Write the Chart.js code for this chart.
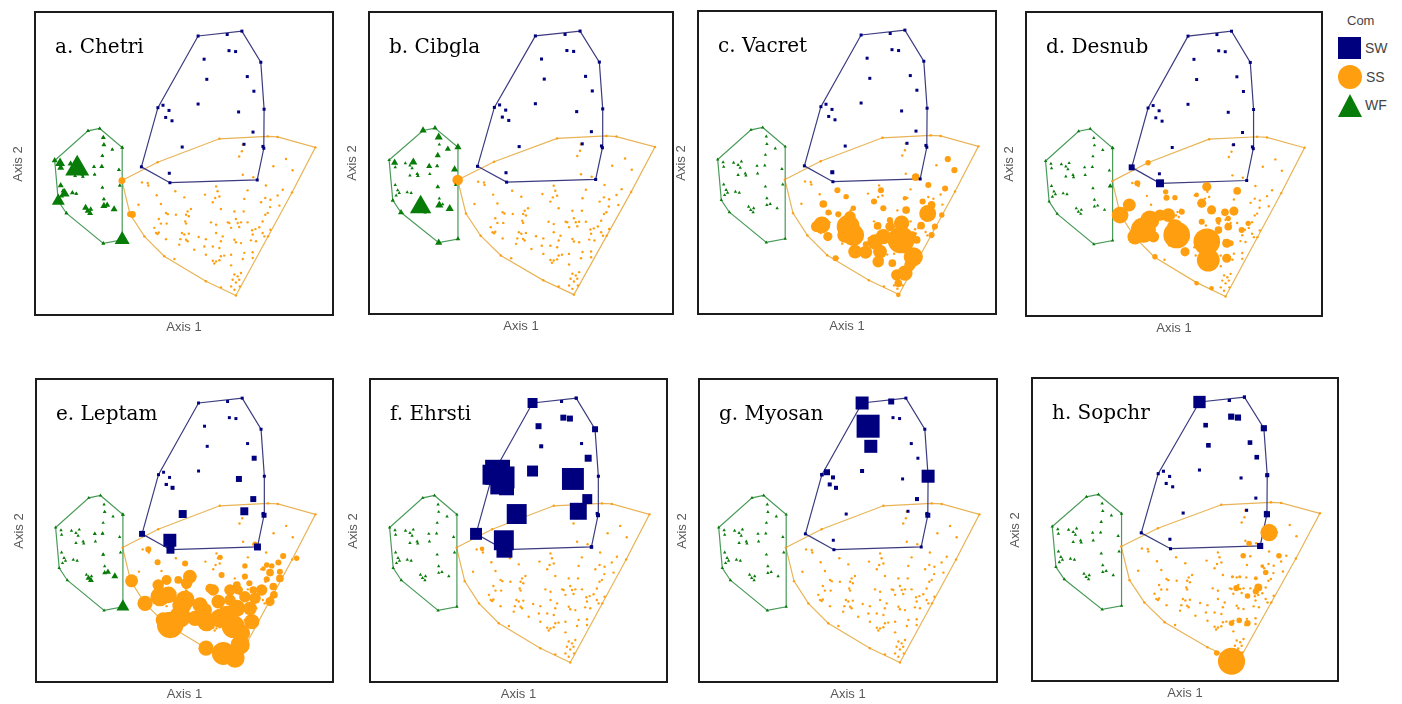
<!DOCTYPE html>
<html>
<head>
<meta charset="utf-8">
<script src="https://cdn.jsdelivr.net/npm/chart.js@4.4.1/dist/chart.umd.min.js"></script>
<style>
  body { margin: 0; background: #fff; width: 1402px; height: 704px; position: relative; overflow: hidden; }
  .box { position: absolute; box-sizing: border-box; border: 2px solid #1c1c1c; pointer-events: none; }
  canvas { position: absolute; }
  .ttl { position: absolute; font-family: "DejaVu Serif", serif; font-size: 20px; line-height: 20px; color: #000; white-space: nowrap; }
  .ax1, .ax2 { position: absolute; font-family: "Liberation Sans", Arial, sans-serif; font-size: 13px; line-height: 14px; color: #595959; white-space: nowrap; text-align: center; }
  .ax2 { width: 60px; transform: rotate(-90deg); }
  .leg { position: absolute; font-family: "Liberation Sans", Arial, sans-serif; color: #444; font-size: 14px; line-height: 14px; }
</style>
</head>
<body>
<script>
// ------------------------------------------------------
// Datos: ordenación (Axis 1 / Axis 2, escala 0-100)
// ------------------------------------------------------
const panelTitles = ["a. Chetri", "b. Cibgla", "c. Vacret", "d. Desnub",
                     "e. Leptam", "f. Ehrsti", "g. Myosan", "h. Sopchr"];

// SW (squares)
const swSamples = [
  [54.7,91.8],[64.4,92.3],[69.3,93.4],[75.6,83.2],[76.7,67.8],[76.3,55.6],[74.4,44.6],
  [45.3,43.7],[35.8,48.9],[41.3,68.3],[65.0,87.0],[67.2,86.7],[56.7,84.2],[57.6,77.6],
  [71.1,78.5],[73.3,73.7],[54.7,69.5],[43.0,69.1],[45.0,67.4],[43.9,65.1],[46.0,64.0],
  [68.2,66.9],[73.0,60.3],[70.0,56.3],[49.4,55.4],[45.1,46.8],[76.6,55.0]
];

// WF (triangles)
const wfSamples = [
  [6.9,51.0],[18.0,60.7],[21.9,61.5],[29.4,55.2],[29.4,25.0],[23.1,23.8],[10.8,33.7],
  [8.1,37.7],[8.7,50.1],[8.9,48.6],[12.2,49.9],[13.7,49.2],[14.8,50.3],[14.4,48.3],
  [16.1,46.4],[16.3,45.7],[13.7,45.9],[20.0,48.9],[20.2,46.4],[22.6,49.0],[23.1,58.5],
  [23.3,56.1],[26.1,54.6],[22.8,52.5],[28.3,47.9],[8.9,42.8],[9.7,41.0],[9.2,39.3],
  [10.2,40.1],[12.8,40.4],[14.1,40.1],[22.8,42.1],[23.3,38.3],[17.2,35.5],[17.9,34.4],
  [18.9,35.0],[18.7,33.7],[23.3,36.1],[24.4,36.4],[26.7,35.0],[28.6,42.8]
];

// SS (circles)
const ssSamples = [
  [29.3,44.4],[41.2,50.4],[61.8,58.1],[77.9,58.9],[81.2,58.7],[93.8,55.3],[86.0,40.5],
  [78.0,26.1],[67.3,6.7],[62.3,9.4],[57.3,11.4],[43.4,19.6],[36.8,26.1],[32.0,33.4],
  [69.6,56.2],[69.3,54.0],[68.4,52.3],[69.6,46.3],[73.1,45.5],[79.8,49.1],[84.0,51.5],
  [86.2,47.8],[77.3,42.8],
  [36.0,43.8],[37.9,43.6],[38.1,42.8],[47.1,40.9],[40.9,39.6],[50.1,38.9],[57.0,39.8],
  [60.7,42.5],[61.2,40.9],[61.8,39.2],[60.4,38.7],[59.6,37.3],[71.2,41.2],[70.1,38.4],
  [75.7,37.3],[77.1,38.7],[78.8,38.1],[81.2,39.5],[82.9,41.4],[81.8,36.2],[78.7,35.7],
  [34.8,36.5],[42.3,36.7],
  [44.0,33.8],[44.6,33.4],[47.3,33.2],[51.2,34.3],[52.3,35.1],[50.7,33.2],[51.6,32.7],
  [50.4,31.0],[62.3,35.1],[66.8,34.3],[69.9,34.3],[77.9,33.8],[77.1,33.2],
  [41.6,31.8],[42.3,30.3],[44.2,30.3],[50.7,30.3],[59.0,30.7],[60.7,29.9],[64.6,30.7],
  [65.1,30.5],[67.3,31.8],[67.9,30.5],[69.0,30.7],[68.4,29.2],[65.7,28.9],[71.2,30.7],
  [76.2,31.0],[75.1,29.1],[73.8,28.5],[78.8,28.3],[72.7,28.1],
  [40.1,28.9],[40.7,27.2],[41.2,26.9],[41.6,27.4],[44.0,25.2],[49.3,27.2],[50.1,26.7],
  [51.6,27.0],[48.8,25.2],[50.7,25.0],[51.2,24.5],[48.4,23.4],[54.9,25.9],[57.3,25.2],
  [60.7,27.2],[62.9,26.1],[62.3,24.5],[66.8,25.0],[67.3,24.2],[69.0,23.9],[72.9,26.7],
  [72.3,24.8],[74.0,24.5],[76.2,27.2],[76.8,26.1],
  [53.4,21.7],[56.8,22.8],[59.6,22.8],[61.8,22.3],[57.3,20.1],[62.3,19.6],[63.4,19.8],
  [61.8,18.3],[59.6,18.1],[60.7,17.9],[60.1,17.2],[65.7,20.1],[70.1,20.7],[72.9,20.9],
  [69.6,18.7],[72.9,19.0],[65.7,16.6],[46.8,18.7],
  [66.8,13.6],[67.9,13.0],[69.0,14.1],[68.4,11.9],[66.2,11.9],[67.3,11.0],[65.7,9.7],
  [68.6,9.7],[66.8,8.6]
];

// Abundancia por especie: [axis1, axis2, abundancia]
const chetriWF = [
  [14.4,48.3,24],[8.7,50.1,10],[6.9,51.0,6],[12.2,49.9,6],[8.9,48.6,7],[22.6,49.0,5],
  [20.0,48.9,4],[22.8,52.5,4],[23.1,58.5,5],[23.3,56.1,5],[28.3,47.9,4],[29.4,55.2,4],
  [18.0,60.7,3.5],[21.9,61.5,3.5],[29.4,25.0,15],[23.1,23.8,4],[10.8,33.7,4],[8.1,37.7,13],
  [10.2,40.1,10],[9.7,41.0,5],[8.9,42.8,6],[12.8,40.4,5],[14.1,40.1,4],[17.2,35.5,7],
  [17.9,34.4,6],[18.7,33.7,6],[18.9,35.0,5],[23.3,36.1,7],[24.4,36.4,6],[26.7,35.0,7],
  [23.3,38.3,4],[22.8,42.1,3.5],[16.1,46.4,3.5],[16.3,45.7,3.5],[13.7,45.9,3.5],
  [20.2,46.4,3.5],[26.1,54.6,3.5],[28.6,42.8,3.5],[13.7,49.2,4],[14.8,50.3,4],[9.2,39.3,5]
];
const chetriSS = [[29.3,44.4,6],[32.8,33.3,6],[32.0,33.4,5]];

const cibglaWF = [
  [17.2,35.5,21],[8.7,50.1,7],[14.8,50.3,8],[18.0,60.7,7],[21.9,61.5,5],[23.1,58.5,8],
  [22.8,52.5,6],[26.1,54.6,6],[29.4,55.2,7],[20.0,48.9,6],[28.3,47.9,7],[23.3,36.1,8],
  [26.7,35.0,8],[10.8,33.7,6],[23.1,23.8,7],[29.4,25.0,4.5],[22.8,42.1,4.5],[22.6,49.0,4],
  [16.1,46.4,3.5],[16.3,45.7,3.5],[8.1,37.7,4]
];
const cibglaSS = [[29.3,44.4,9]];

const vacretSW = [[45.1,46.8,4]];
const vacretSS = [
  [83.6,51.1,5.3],[85.8,47.5,5.3],[72.9,45.2,6.7],[77.1,42.6,5.3],[82.7,41.5,5.3],
  [46.8,40.9,5.3],[61.3,40.9,5.3],[49.7,38.8,4.7],[59.0,37.2,5.3],[42.1,36.4,6.7],
  [52.1,35.0,4.7],[62.1,35.0,5.3],[43.8,33.6,5.3],[47.1,33.0,5.3],[69.7,34.4,6.7],
  [75.2,37.2,5.3],[76.9,33.3,14.7],[78.2,36.1,6.7],[41.6,29.5,14.7],[39.9,29.0,10],
  [42.7,30.2,8],[43.6,25.7,8],[50.4,29.0,20],[51.0,32.2,10],[52.1,26.2,18.7],
  [49.3,26.2,13.3],[52.7,20.8,12],[56.2,20.6,11.3],[56.3,23.2,5.3],[60.2,29.2,6.7],
  [59.3,24.0,13.3],[62.1,25.7,13.3],[61.0,20.8,12],[60.4,17.5,10],[64.3,29.0,8],
  [68.2,30.1,13.3],[68.0,24.6,23.3],[72.1,19.1,16.7],[71.0,16.4,10],[69.3,13.7,13.3],
  [66.6,13.1,10],[67.1,10.4,6.7],[65.1,17.0,6.7],[71.8,26.2,6.7],[73.2,24.6,6.7],
  [74.7,29.3,6.7],[78.2,26.2,5.3],[79.3,29.0,5.3],[46.2,18.6,5.3],[67.1,6.6,4],
  [69.3,38.3,4],[64.3,31.1,5.3],[81.6,32.8,4.7]
];

const desnubSW = [[35.8,48.9,6],[45.3,43.7,8]];
const desnubWF = [[28.6,42.8,5],[29.4,55.2,4]];
const desnubSS = [
  [31.9,33.3,14.7],[35.0,36.6,11.3],[37.7,43.7,5.3],[39.7,28.4,22],[36.9,26.2,13.3],
  [41.9,31.7,16.7],[45.3,33.3,10],[48.1,33.3,12],[43.1,26.2,10],[50.9,26.8,23.3],
  [50.3,29.5,13.3],[53.7,21.3,8],[47.5,39.0,5.3],[50.3,39.0,4.7],[61.0,42.6,8],
  [59.3,37.2,8],[62.6,35.0,8],[67.1,34.2,6.7],[70.1,34.6,8],[71.2,41.2,6.7],
  [61.0,24.6,23.3],[61.5,18.6,20],[64.9,28.4,6.7],[59.3,31.1,5.3],[68.2,29.5,6.7],
  [67.7,24.1,8],[69.0,24.1,5.3],[67.7,19.2,8],[72.7,28.4,5.3],[74.9,30.6,4.7],
  [47.2,40.9,4.7],[57.6,11.0,4],[62.6,9.4,4],[43.6,19.7,4.7],[64.9,31.7,5.3],
  [68.2,32.2,4.7],[52.6,34.4,5.3],[57.6,39.9,4],[41.3,50.4,4.7]
];

const leptamSW = [
  [45.1,46.8,13],[45.3,43.7,8],[49.4,55.4,8],[35.8,48.9,6],[68.2,66.9,6],[73.3,73.7,5],
  [73.0,60.3,6],[70.0,56.3,8],[76.6,55.0,5],[74.4,44.6,7],[46.0,64.0,4],[43.9,65.1,3]
];
const leptamWF = [
  [29.4,25.0,13],[26.7,35.0,7],[24.4,36.4,6],[23.3,36.1,5],[17.9,34.4,6],[18.7,33.7,6],
  [22.8,42.1,4],[20.0,48.9,4],[22.6,49.0,4],[29.4,55.2,4],[23.3,56.1,3.5]
];
const leptamSS = [
  [32.3,33.5,11.3],[36.8,26.1,13.3],[41.2,32.1,10],[44.0,33.8,8.7],[41.8,28.3,16.7],
  [44.6,28.9,14.7],[45.2,19.0,23],[42.9,20.7,13.3],[48.5,21.7,18.7],[49.1,25.6,16.7],
  [50.2,27.2,16.7],[51.8,34.9,12],[50.7,32.7,10],[55.2,25.6,13.3],[53.5,21.2,13.3],
  [57.4,20.1,16.7],[59.6,30.5,10],[61.3,26.7,12],[61.9,21.2,16.7],[65.2,30.5,10],
  [67.5,24.5,14.7],[64.1,22.8,13.3],[66.3,18.5,20],[63.0,9.7,20],[66.9,8.1,16.7],
  [68.6,12.5,16.7],[69.1,16.3,14.7],[72.5,20.1,13.3],[71.9,24.5,12],[70.2,28.3,10],
  [73.6,27.8,10],[75.8,30.5,10],[78.6,26.7,8],[79.9,28.9,6.7],[79.7,31.6,6.7],
  [81.9,34.3,6.7],[81.9,36.5,5.3],[78.6,36.2,6.7],[77.5,34.0,5.3],[81.4,39.5,5.3],
  [83.0,41.6,5.3],[87.5,40.9,4.7],[77.5,38.7,4.7],[79.2,38.4,4.7],[76.4,37.5,4],
  [58.5,31.0,8],[62.4,35.4,5.3],[67.5,32.1,6.7],[68.0,30.5,8],[70.2,34.9,5.3],
  [71.7,32.7,5.3],[70.2,38.4,4.7],[61.9,41.2,4.7],[50.2,39.2,5.3],[41.0,39.6,5.3],
  [37.9,43.8,5.3],[73.6,45.5,4.7],[57.2,11.4,13.3],[47.9,33.8,6.7],[56.9,23.9,12],
  [65.2,27.2,10],[73.0,30.5,6.7]
];

const ehrstiSW = [
  [54.7,91.8,10],[64.4,92.3,3],[69.3,93.4,3],[75.6,83.2,6],[65.0,87.0,6],[67.2,86.7,6],
  [56.7,84.2,6],[57.6,77.6,4],[71.1,78.5,2.5],[73.3,73.7,7],[54.7,69.5,11],[41.3,68.3,20],
  [43.0,69.1,25],[45.0,67.4,22],[43.9,65.1,20],[46.0,64.0,15],[68.2,66.9,22],[73.0,60.3,10],
  [70.0,56.3,17],[49.4,55.4,20],[35.8,48.9,12],[45.1,46.8,20],[45.3,43.7,16],[76.6,55.0,4],
  [74.4,44.6,3.5],[76.7,67.8,2.5]
];
const ehrstiSS = [[37.8,44.0,4]];

const myosanSW = [
  [54.7,91.8,13],[56.7,84.2,23],[57.6,77.6,13],[64.4,92.3,6],[76.7,67.8,13],[41.3,68.3,3.5],
  [43.0,69.1,6],[45.0,67.4,4],[43.9,65.1,4],[46.0,64.0,4],[54.7,69.5,4],[73.0,60.3,4],
  [76.6,55.0,5]
];

const sopchrSW = [
  [54.7,91.8,12],[65.0,87.0,6],[67.2,86.7,6],[56.7,84.2,4.5],[75.6,83.2,6],[57.6,77.6,4.5],
  [71.1,78.5,4.5],[73.3,73.7,4.5],[76.7,67.8,4],[76.6,55.0,6],[74.4,44.6,6],[69.3,93.4,3],
  [64.4,92.3,3]
];
const sopchrSS = [
  [77.3,49.0,14.7],[65.1,6.8,23],[60.3,9.5,4.7],[70.8,45.4,4.7],[68.9,41.4,4.7],[80.5,41.4,4.7],
  [76.2,35.9,4.7],[73.8,31.0,6.7],[73.0,29.7,5.3],[66.7,30.8,5.3],[70.3,28.2,4.7],[65.1,19.3,4.7],
  [67.6,20.2,4.7],[70.3,19.3,5.3],[73.0,34.0,3.3],[75.1,38.0,3.3],[65.4,34.5,2.7],[67.8,34.5,2.7]
];

const panelSW = [[], [], vacretSW, desnubSW, leptamSW, ehrstiSW, myosanSW, sopchrSW];
const panelWF = [chetriWF, cibglaWF, [], desnubWF, leptamWF, [], [], []];
const panelSS = [chetriSS, cibglaSS, vacretSS, desnubSS, leptamSS, ehrstiSS, [], sopchrSS];

// ------------------------------------------------------
// Layout / estilos
// ------------------------------------------------------
const boxes = [
  [34, 11, 300, 305], [368, 11, 306, 304], [697, 10, 300, 305], [1025, 11, 298, 306],
  [35, 378, 299, 305], [369, 378, 299, 305], [698, 378, 300, 305], [1031, 377, 308, 305]
];
const COL_SW = "#00007f", COL_SS = "#ff9e0f", COL_WF = "#087c08";
const LINE_SW = "#3b3b80", LINE_SS = "#e8b457", LINE_WF = "#4a9b5a";
const BASE_SW = 3, BASE_SS = 2.4, BASE_WF = 3.4;
const SS_GAIN = 1.15; // tamaño de los círculos con abundancia

function convexHull(pts) {
  const p = pts.map((d) => ({ x: d[0], y: d[1] })).sort((a, b) => a.x - b.x || a.y - b.y);
  const cross = (o, a, b) => (a.x - o.x) * (b.y - o.y) - (a.y - o.y) * (b.x - o.x);
  const lower = [], upper = [];
  for (const q of p) {
    while (lower.length >= 2 && cross(lower[lower.length - 2], lower[lower.length - 1], q) <= 0) lower.pop();
    lower.push(q);
  }
  for (let i = p.length - 1; i >= 0; i--) {
    const q = p[i];
    while (upper.length >= 2 && cross(upper[upper.length - 2], upper[upper.length - 1], q) <= 0) upper.pop();
    upper.push(q);
  }
  upper.pop(); lower.pop();
  const h = lower.concat(upper);
  h.push(h[0]);
  return h;
}

const hullSW = convexHull(swSamples);
const hullSS = convexHull(ssSamples);
const hullWF = convexHull(wfSamples);

function pts(base, baseSize, extra, gain = 1) {
  return base.map((d) => ({ x: d[0], y: d[1], s: baseSize }))
    .concat(extra.map((d) => ({ x: d[0], y: d[1], s: d[2] * gain })));
}

function addDiv(cls, text, css) {
  const el = document.createElement("div");
  el.className = cls;
  if (text) el.textContent = text;
  Object.assign(el.style, css);
  document.body.appendChild(el);
  return el;
}

boxes.forEach(([bx, by, bw, bh], i) => {
  const k = bw / 300;
  const cv = document.createElement("canvas");
  cv.width = bw; cv.height = bh;
  cv.style.left = bx + "px"; cv.style.top = by + "px";
  document.body.appendChild(cv);

  const hull = (data, color, order) => ({
    data, showLine: true, fill: false, borderColor: color, borderWidth: 1.2,
    pointRadius: 0, tension: 0, order
  });

  new Chart(cv, {
    type: "scatter",
    data: {
      datasets: [
        {
          data: pts(swSamples, BASE_SW, panelSW[i]), pointStyle: "rect",
          pointRadius: (c) => (c.raw ? (c.raw.s * k) / 1.414 : 0),
          backgroundColor: COL_SW, borderWidth: 0, order: 0
        },
        {
          data: pts(wfSamples, BASE_WF, panelWF[i]), pointStyle: "triangle",
          pointRadius: (c) => (c.raw ? (c.raw.s * k) / 1.732 : 0),
          backgroundColor: COL_WF, borderWidth: 0, order: 1
        },
        {
          data: pts(ssSamples, BASE_SS, panelSS[i], SS_GAIN), pointStyle: "circle",
          pointRadius: (c) => (c.raw ? (c.raw.s * k) / 2 : 0),
          backgroundColor: COL_SS, borderWidth: 0, order: 2
        },
        hull(hullSW, LINE_SW, 3),
        hull(hullWF, LINE_WF, 4),
        hull(hullSS, LINE_SS, 5)
      ]
    },
    options: {
      responsive: false,
      animation: false,
      events: [],
      layout: { padding: 0, autoPadding: false },
      clip: false,
      plugins: { legend: { display: false }, tooltip: { enabled: false } },
      scales: {
        x: { type: "linear", min: 0, max: 100, display: false },
        y: { type: "linear", min: 0, max: 100, display: false }
      }
    }
  });

  addDiv("box", "", { left: bx + "px", top: by + "px", width: bw + "px", height: bh + "px" });
  addDiv("ttl", panelTitles[i], { left: bx + 21 + "px", top: by + 25 + "px" });
  addDiv("ax1", "Axis 1", { left: bx + "px", top: by + bh + 4 + "px", width: bw + "px" });
  addDiv("ax2", "Axis 2", { left: bx - 16 - 30 + "px", top: by + bh / 2 - 7 + "px" });
});

// Leyenda "Com"
addDiv("leg", "Com", { left: "1347px", top: "14px", fontSize: "13px" });
addDiv("leg", "", { left: "1338px", top: "37px", width: "23px", height: "22px", background: COL_SW });
addDiv("leg", "SW", { left: "1365px", top: "41px" });
addDiv("leg", "", { left: "1338px", top: "65px", width: "24px", height: "24px", borderRadius: "50%", background: COL_SS });
addDiv("leg", "SS", { left: "1366px", top: "70px" });
addDiv("leg", "", {
  left: "1338px", top: "94px", width: "0", height: "0",
  borderLeft: "12px solid transparent", borderRight: "12px solid transparent",
  borderBottom: "23px solid " + COL_WF
});
addDiv("leg", "WF", { left: "1365px", top: "98px" });
</script>
</body>
</html>
